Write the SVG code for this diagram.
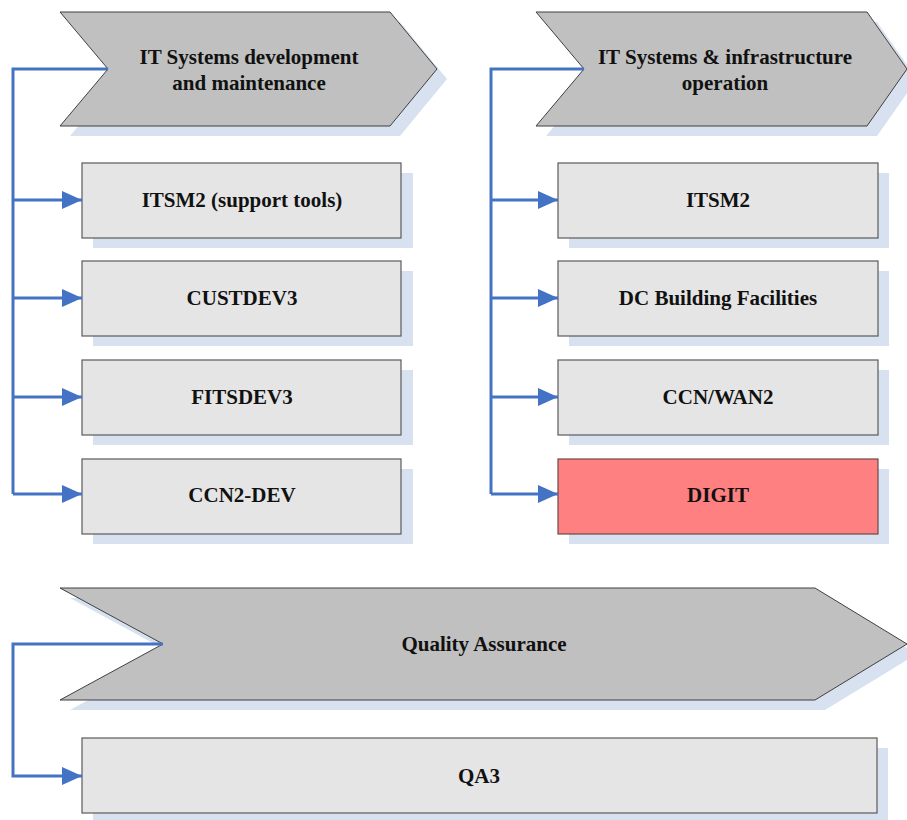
<svg xmlns="http://www.w3.org/2000/svg" width="907" height="820" viewBox="0 0 907 820">
<defs>
<style>
.shadow{fill:#d7e1f0}
.chev{fill:#c0c0c0;stroke:#404040;stroke-width:1}
.box{fill:#e5e5e5;stroke:#5a5a5a;stroke-width:1.2}
.red{fill:#ff8080;stroke:#6a4a4a;stroke-width:1.2}
.t{font-family:"Liberation Serif","Times New Roman",serif;font-weight:bold;font-size:21px;fill:#111;text-anchor:middle}
.conn{fill:none;stroke:#4472c4;stroke-width:3}
</style>
<marker id="ah" markerWidth="20" markerHeight="18" refX="20" refY="9" orient="auto" markerUnits="userSpaceOnUse">
<path d="M0,0 L20,9 L0,18 Z" fill="#4472c4"/>
</marker>
</defs>
<rect width="907" height="820" fill="#fff"/>

<g id="chev-dev">
<polygon class="shadow" points="70,22 400,22 447,79 400,136 70,136 118,79"/>
<polygon class="chev" points="60,12 390,12 437,69 390,126 60,126 108,69"/>
<text class="t" x="249" y="64">IT Systems development</text>
<text class="t" x="249" y="90">and maintenance</text>
</g>
<g id="chev-ops">
<polygon class="shadow" points="546,22 877,22 917,79 877,136 546,136 594,79"/>
<polygon class="chev" points="536,12 867,12 907,69 867,126 536,126 584,69"/>
<text class="t" x="725" y="64">IT Systems &amp; infrastructure</text>
<text class="t" x="725" y="90">operation</text>
</g>

<g id="itsm2-support">
<rect class="shadow" x="93" y="173" width="320" height="75"/>
<rect class="box" x="82" y="163" width="319" height="75"/>
<text class="t" x="242" y="207">ITSM2 (support tools)</text>
</g>
<g id="custdev3">
<rect class="shadow" x="93" y="271" width="320" height="75"/>
<rect class="box" x="82" y="261" width="319" height="75"/>
<text class="t" x="242" y="305">CUSTDEV3</text>
</g>
<g id="fitsdev3">
<rect class="shadow" x="93" y="370" width="320" height="75"/>
<rect class="box" x="82" y="360" width="319" height="75"/>
<text class="t" x="242" y="404">FITSDEV3</text>
</g>
<g id="ccn2-dev">
<rect class="shadow" x="93" y="469" width="320" height="75"/>
<rect class="box" x="82" y="459" width="319" height="75"/>
<text class="t" x="242" y="502">CCN2-DEV</text>
</g>

<g id="itsm2">
<rect class="shadow" x="569" y="173" width="320" height="75"/>
<rect class="box" x="558" y="163" width="320" height="75"/>
<text class="t" x="718" y="207">ITSM2</text>
</g>
<g id="dc-building">
<rect class="shadow" x="569" y="271" width="320" height="75"/>
<rect class="box" x="558" y="261" width="320" height="75"/>
<text class="t" x="718" y="305">DC Building Facilities</text>
</g>
<g id="ccn-wan2">
<rect class="shadow" x="569" y="370" width="320" height="75"/>
<rect class="box" x="558" y="360" width="320" height="75"/>
<text class="t" x="718" y="404">CCN/WAN2</text>
</g>
<g id="digit">
<rect class="shadow" x="569" y="469" width="320" height="75"/>
<rect class="red" x="558" y="459" width="320" height="75"/>
<text class="t" x="718" y="502">DIGIT</text>
</g>

<g id="chev-qa">
<polygon class="shadow" points="70,598 825,598 917,654 825,710 70,710 173,654"/>
<polygon class="chev" points="60,588 815,588 907,644 815,700 60,700 163,644"/>
<text class="t" x="484" y="651">Quality Assurance</text>
</g>
<g id="qa3">
<rect class="shadow" x="93" y="748" width="795" height="72"/>
<rect class="box" x="82" y="738" width="795" height="75"/>
<text class="t" x="479" y="783">QA3</text>
</g>

<g id="connectors">
<path class="conn" d="M108,69 H13 V494"/>
<path class="conn" d="M13,200 H82" marker-end="url(#ah)"/>
<path class="conn" d="M13,298 H82" marker-end="url(#ah)"/>
<path class="conn" d="M13,397 H82" marker-end="url(#ah)"/>
<path class="conn" d="M13,494 H82" marker-end="url(#ah)"/>
<path class="conn" d="M584,69 H491 V494"/>
<path class="conn" d="M491,200 H558" marker-end="url(#ah)"/>
<path class="conn" d="M491,298 H558" marker-end="url(#ah)"/>
<path class="conn" d="M491,397 H558" marker-end="url(#ah)"/>
<path class="conn" d="M491,494 H558" marker-end="url(#ah)"/>
<path class="conn" d="M163,644 H13 V776 H82" marker-end="url(#ah)"/>
</g>
</svg>
